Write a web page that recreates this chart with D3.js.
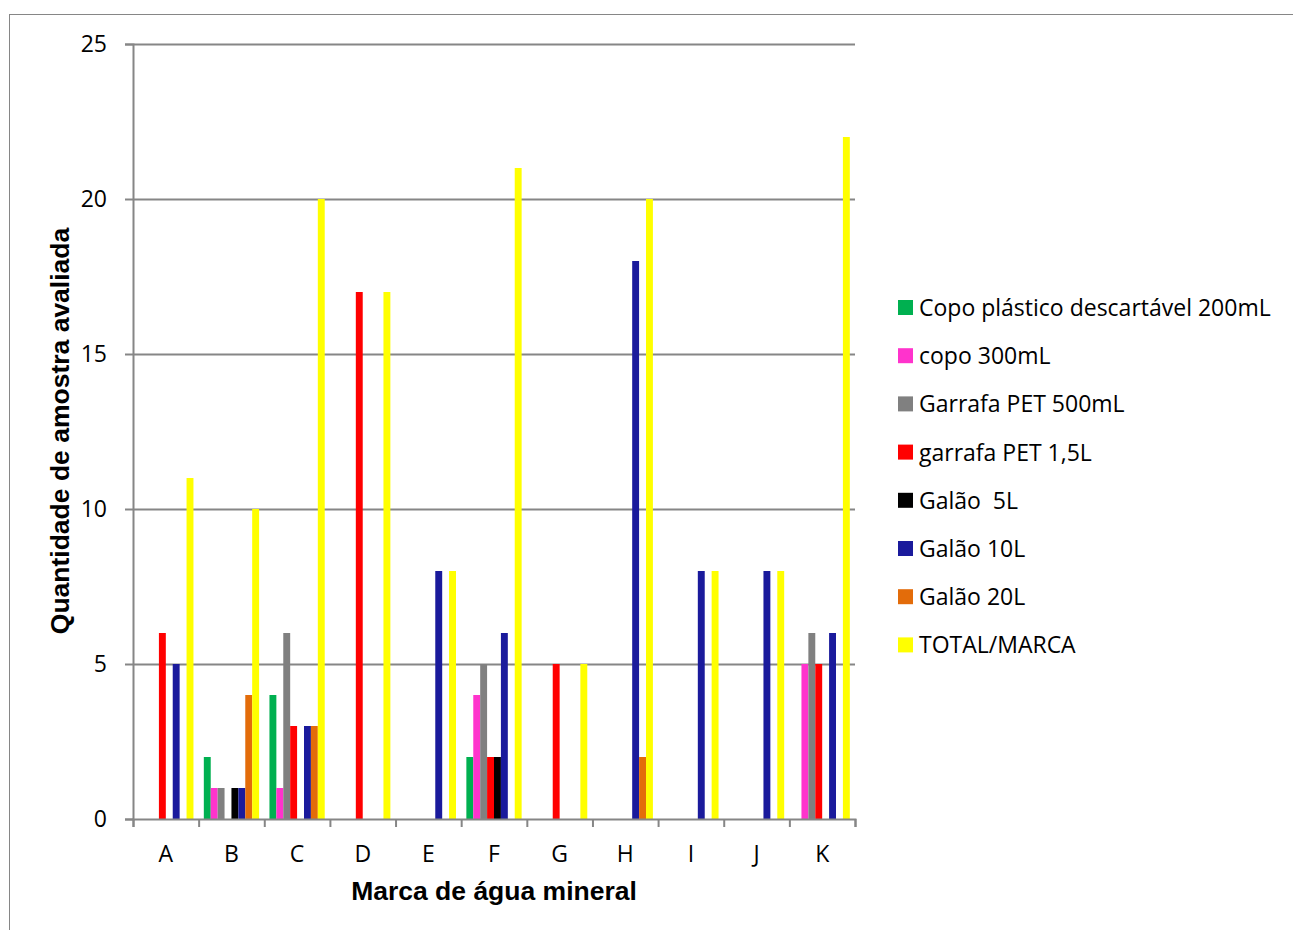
<!DOCTYPE html>
<html>
<head>
<meta charset="utf-8">
<script src="https://cdn.jsdelivr.net/npm/d3@7"></script>
<style>
  body { margin: 0; background: #fff; }
  svg { display: block; }
</style>
</head>
<body>
<div id="chart"></div>
<script>
// brands (x categories)
var brands = ["A", "B", "C", "D", "E", "F", "G", "H", "I", "J", "K"];

// series names + colours
var seriesNames = ["Copo plástico descartável 200mL", "copo 300mL", "Garrafa PET 500mL",
  "garrafa PET 1,5L", "Galão  5L", "Galão 10L", "Galão 20L", "TOTAL/MARCA"];
var seriesColors = ["#00b050", "#ff33cc", "#808080", "#ff0000", "#000000", "#1a1a9c", "#e36c0a", "#ffff00"];

// values per series, one per brand
var copo200 = [0, 2, 4, 0, 0, 2, 0, 0, 0, 0, 0];
var copo300 = [0, 1, 1, 0, 0, 4, 0, 0, 0, 0, 5];
var pet500 = [0, 1, 6, 0, 0, 5, 0, 0, 0, 0, 6];
var pet15 = [6, 0, 3, 17, 0, 2, 5, 0, 0, 0, 5];
var galao5 = [0, 1, 0, 0, 0, 2, 0, 0, 0, 0, 0];
var galao10 = [5, 1, 3, 0, 8, 6, 0, 18, 8, 8, 6];
var galao20 = [0, 4, 3, 0, 0, 0, 0, 2, 0, 0, 0];
var total = [11, 10, 20, 17, 8, 21, 5, 20, 8, 8, 22];

var yTicks = [0, 5, 10, 15, 20, 25];

var allSeries = [copo200, copo300, pet500, pet15, galao5, galao10, galao20, total];

var W = 1293, H = 930;
var margin = { top: 44, left: 133, right: 1293 - 855, bottom: 930 - 819 };
var plotW = W - margin.left - margin.right;
var plotH = H - margin.top - margin.bottom;
var font = "'Open Sans', sans-serif";

const svg = d3.select("#chart").append("svg")
    .attr("width", W)
    .attr("height", H);

// outer chart border
svg.append("rect")
    .attr("x", 9.5).attr("y", 14.5)
    .attr("width", 1300).attr("height", 940)
    .attr("fill", "none")
    .attr("stroke", "#868686")
    .attr("stroke-width", 1);

const g = svg.append("g")
    .attr("transform", `translate(${margin.left},${margin.top})`);

var x = d3.scaleBand().domain(brands).range([0, plotW]);
// 8 bars per brand, gap of 150% of a bar split on both sides
var barW = x.bandwidth() / 9.5;
var xInner = d3.scaleBand().domain(d3.range(allSeries.length))
    .range([barW * 0.75, x.bandwidth() - barW * 0.75]);
var y = d3.scaleLinear().domain([0, 25]).range([plotH, 0]);

// gridlines
g.append("g")
    .selectAll("line")
    .data(yTicks.filter(d => d > 0))
    .enter().append("line")
    .attr("x1", 0).attr("x2", plotW)
    .attr("y1", d => Math.round(y(d)) + 0.5)
    .attr("y2", d => Math.round(y(d)) + 0.5)
    .attr("stroke", "#868686")
    .attr("stroke-width", 2);

// bars
allSeries.forEach((vals, si) => {
    g.append("g")
        .selectAll("rect")
        .data(vals.map((v, i) => ({ brand: brands[i], v: v })))
        .enter().append("rect")
        .attr("x", d => x(d.brand) + xInner(si))
        .attr("width", xInner.bandwidth())
        .attr("y", d => y(d.v))
        .attr("height", d => y(0) - y(d.v))
        .attr("fill", seriesColors[si]);
});

// y axis
const yAxis = g.append("g")
    .call(d3.axisLeft(y).tickValues(yTicks).tickSize(8).tickPadding(18));
yAxis.select(".domain").attr("stroke", "#868686").attr("stroke-width", 2);
yAxis.selectAll(".tick line").attr("stroke", "#868686").attr("stroke-width", 2);
yAxis.selectAll("text")
    .attr("font-family", font)
    .attr("font-size", 23)
    .attr("dy", 7.5)
    .attr("fill", "#000");

// x axis
const xTickScale = d3.scaleLinear().domain([0, brands.length]).range([0, plotW]);
const xAxis = g.append("g")
    .attr("transform", `translate(0,${plotH})`)
    .call(d3.axisBottom(xTickScale).tickValues(d3.range(brands.length + 1)).tickSize(8).tickFormat(""));
xAxis.select(".domain").attr("stroke", "#868686").attr("stroke-width", 2);
xAxis.selectAll(".tick line").attr("stroke", "#868686").attr("stroke-width", 2);

g.append("g")
    .selectAll("text")
    .data(brands)
    .enter().append("text")
    .attr("x", d => x(d) + x.bandwidth() / 2)
    .attr("y", plotH + 43)
    .attr("text-anchor", "middle")
    .attr("font-family", font)
    .attr("font-size", 23)
    .text(d => d);

// axis titles
svg.append("text")
    .attr("x", 494).attr("y", 900)
    .attr("text-anchor", "middle")
    .attr("font-family", "Arial, 'Liberation Sans', sans-serif")
    .attr("font-weight", "bold")
    .attr("font-size", 26.5)
    .text("Marca de água mineral");

svg.append("text")
    .attr("transform", "translate(69,431) rotate(-90)")
    .attr("text-anchor", "middle")
    .attr("font-family", "Arial, 'Liberation Sans', sans-serif")
    .attr("font-weight", "bold")
    .attr("font-size", 26.5)
    .text("Quantidade de amostra avaliada");

// legend
const legend = svg.append("g")
    .selectAll("g")
    .data(seriesNames)
    .enter().append("g")
    .attr("transform", (d, i) => `translate(898,${300 + i * 48.2})`);

legend.append("rect")
    .attr("width", 15).attr("height", 15)
    .attr("fill", (d, i) => seriesColors[i]);

legend.append("text")
    .attr("x", 21).attr("y", 16)
    .attr("font-family", font)
    .attr("font-size", 23)
    .attr("fill", "#000")
    .style("white-space", "pre")
    .text(d => d);
</script>
</body>
</html>
